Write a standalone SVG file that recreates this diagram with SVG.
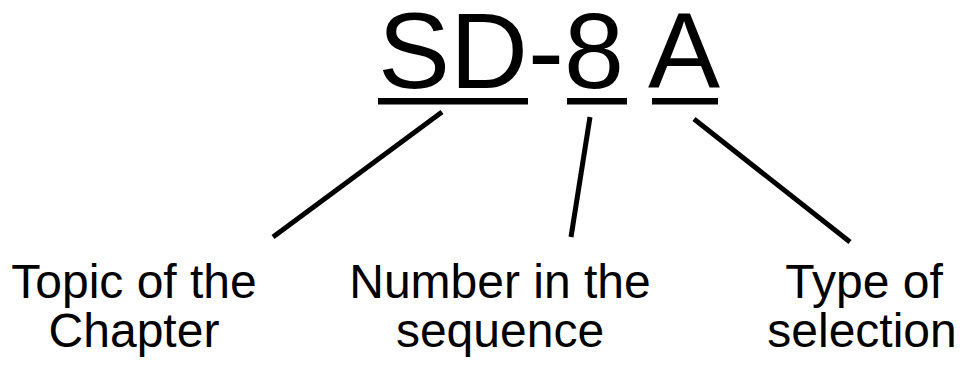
<svg xmlns="http://www.w3.org/2000/svg" width="963" height="365" viewBox="0 0 963 365">
<style>
.t{font-family:"Liberation Sans",Arial,sans-serif;fill:#000}
.title{font-size:108px}
.lbl{font-size:48px;text-anchor:middle}
.ul{fill:#000}
.c{stroke:#000;stroke-width:5;fill:none}
</style>
<rect width="963" height="365" fill="#fff"/>
<g id="code">
<text class="t title" x="378" y="88">SD-8 A</text>
<rect class="ul" x="378" y="98" width="150" height="6.5"/>
<rect class="ul" x="567" y="98" width="60" height="6.5"/>
<rect class="ul" x="652" y="98" width="66" height="6.5"/>
</g>
<g id="connectors">
<line class="c" x1="442" y1="112" x2="273" y2="237"/>
<line class="c" x1="590" y1="117" x2="571" y2="237"/>
<line class="c" x1="694" y1="119" x2="850" y2="242"/>
</g>
<g id="topic">
<text class="t lbl" x="134" y="298">Topic of the</text>
<text class="t lbl" x="134" y="347">Chapter</text>
</g>
<g id="number">
<text class="t lbl" x="500" y="298">Number in the</text>
<text class="t lbl" x="500" y="347">sequence</text>
</g>
<g id="type">
<text class="t lbl" x="864" y="298">Type of</text>
<text class="t lbl" x="862" y="347">selection</text>
</g>
</svg>
